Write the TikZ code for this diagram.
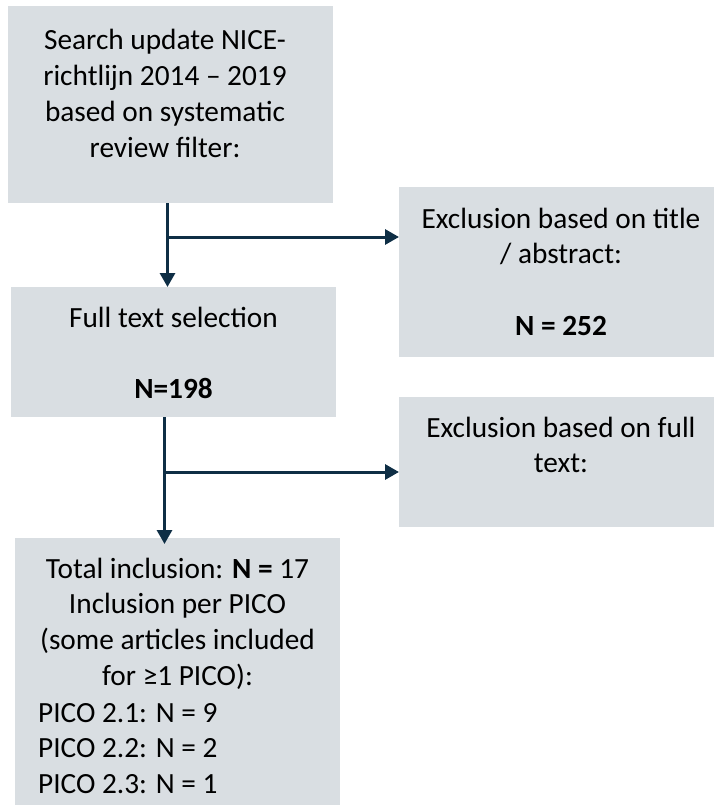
\documentclass[tikz,border=0pt]{standalone}
\usepackage{fontspec}
\setmainfont{Carlito}
\usetikzlibrary{arrows.meta}
\definecolor{boxgray}{RGB}{217,222,226}
\definecolor{navy}{RGB}{14,46,69}
\begin{document}
\begin{tikzpicture}[x=1pt,y=-1pt,
 box/.style={fill=boxgray,draw=none,inner sep=0pt,anchor=north west},
 txt/.style={font=\fontsize{29.3}{35.8}\selectfont,inner sep=0pt,align=center,anchor=base},
 conn/.style={draw=navy,line width=3pt},
 arr/.style={conn,-{Triangle[length=14pt,width=15pt]}}]
\useasboundingbox (0,0) rectangle (714,805);
% boxes
\node[box,minimum width=325pt,minimum height=197pt] (b1) at (8,6) {};
\node[box,minimum width=325pt,minimum height=130pt] (b2) at (11,287) {};
\node[box,minimum width=315pt,minimum height=170pt] (b3) at (399,187) {};
\node[box,minimum width=315pt,minimum height=130pt] (b4) at (399,397) {};
\node[box,minimum width=325pt,minimum height=267pt] (b5) at (15,538) {};
% texts (anchor = baseline of the last line)
\node[txt] (t1) at (165,157.4) {Search update NICE-\\richtlijn 2014 – 2019\\based on systematic\\review filter:};
\node[txt] (t2) at (173.5,398.6) {Full text selection\\[35.8pt]\textbf{N=198}};
\node[txt] (t3) at (561,335.4) {Exclusion based on title\\/ abstract:\\[35.8pt]\textbf{N = 252}};
\node[txt] (t4) at (561,472.8) {Exclusion based on full\\text:};
\node[txt] (t5) at (177.5,685.4) {Total inclusion: \textbf{N =} 17\\Inclusion per PICO\\(some articles included\\for ≥1 PICO):};
\node[txt,align=left,anchor=base west] (t6) at (38,793.6) {PICO 2.1: N = 9\\PICO 2.2: N = 2\\PICO 2.3: N = 1};
% junctions
\coordinate (j1) at (167.5,237);
\coordinate (j2) at (164.5,472);
% connectors
\draw[arr] (b1.south -| j1) -- (b2.north -| j1);
\draw[arr] (j1) -- (j1 -| b3.west);
\draw[arr,shorten >=-6pt] (b2.south -| j2) -- (b5.north -| j2);
\draw[arr] (j2) -- (j2 -| b4.west);
\end{tikzpicture}
\end{document}
